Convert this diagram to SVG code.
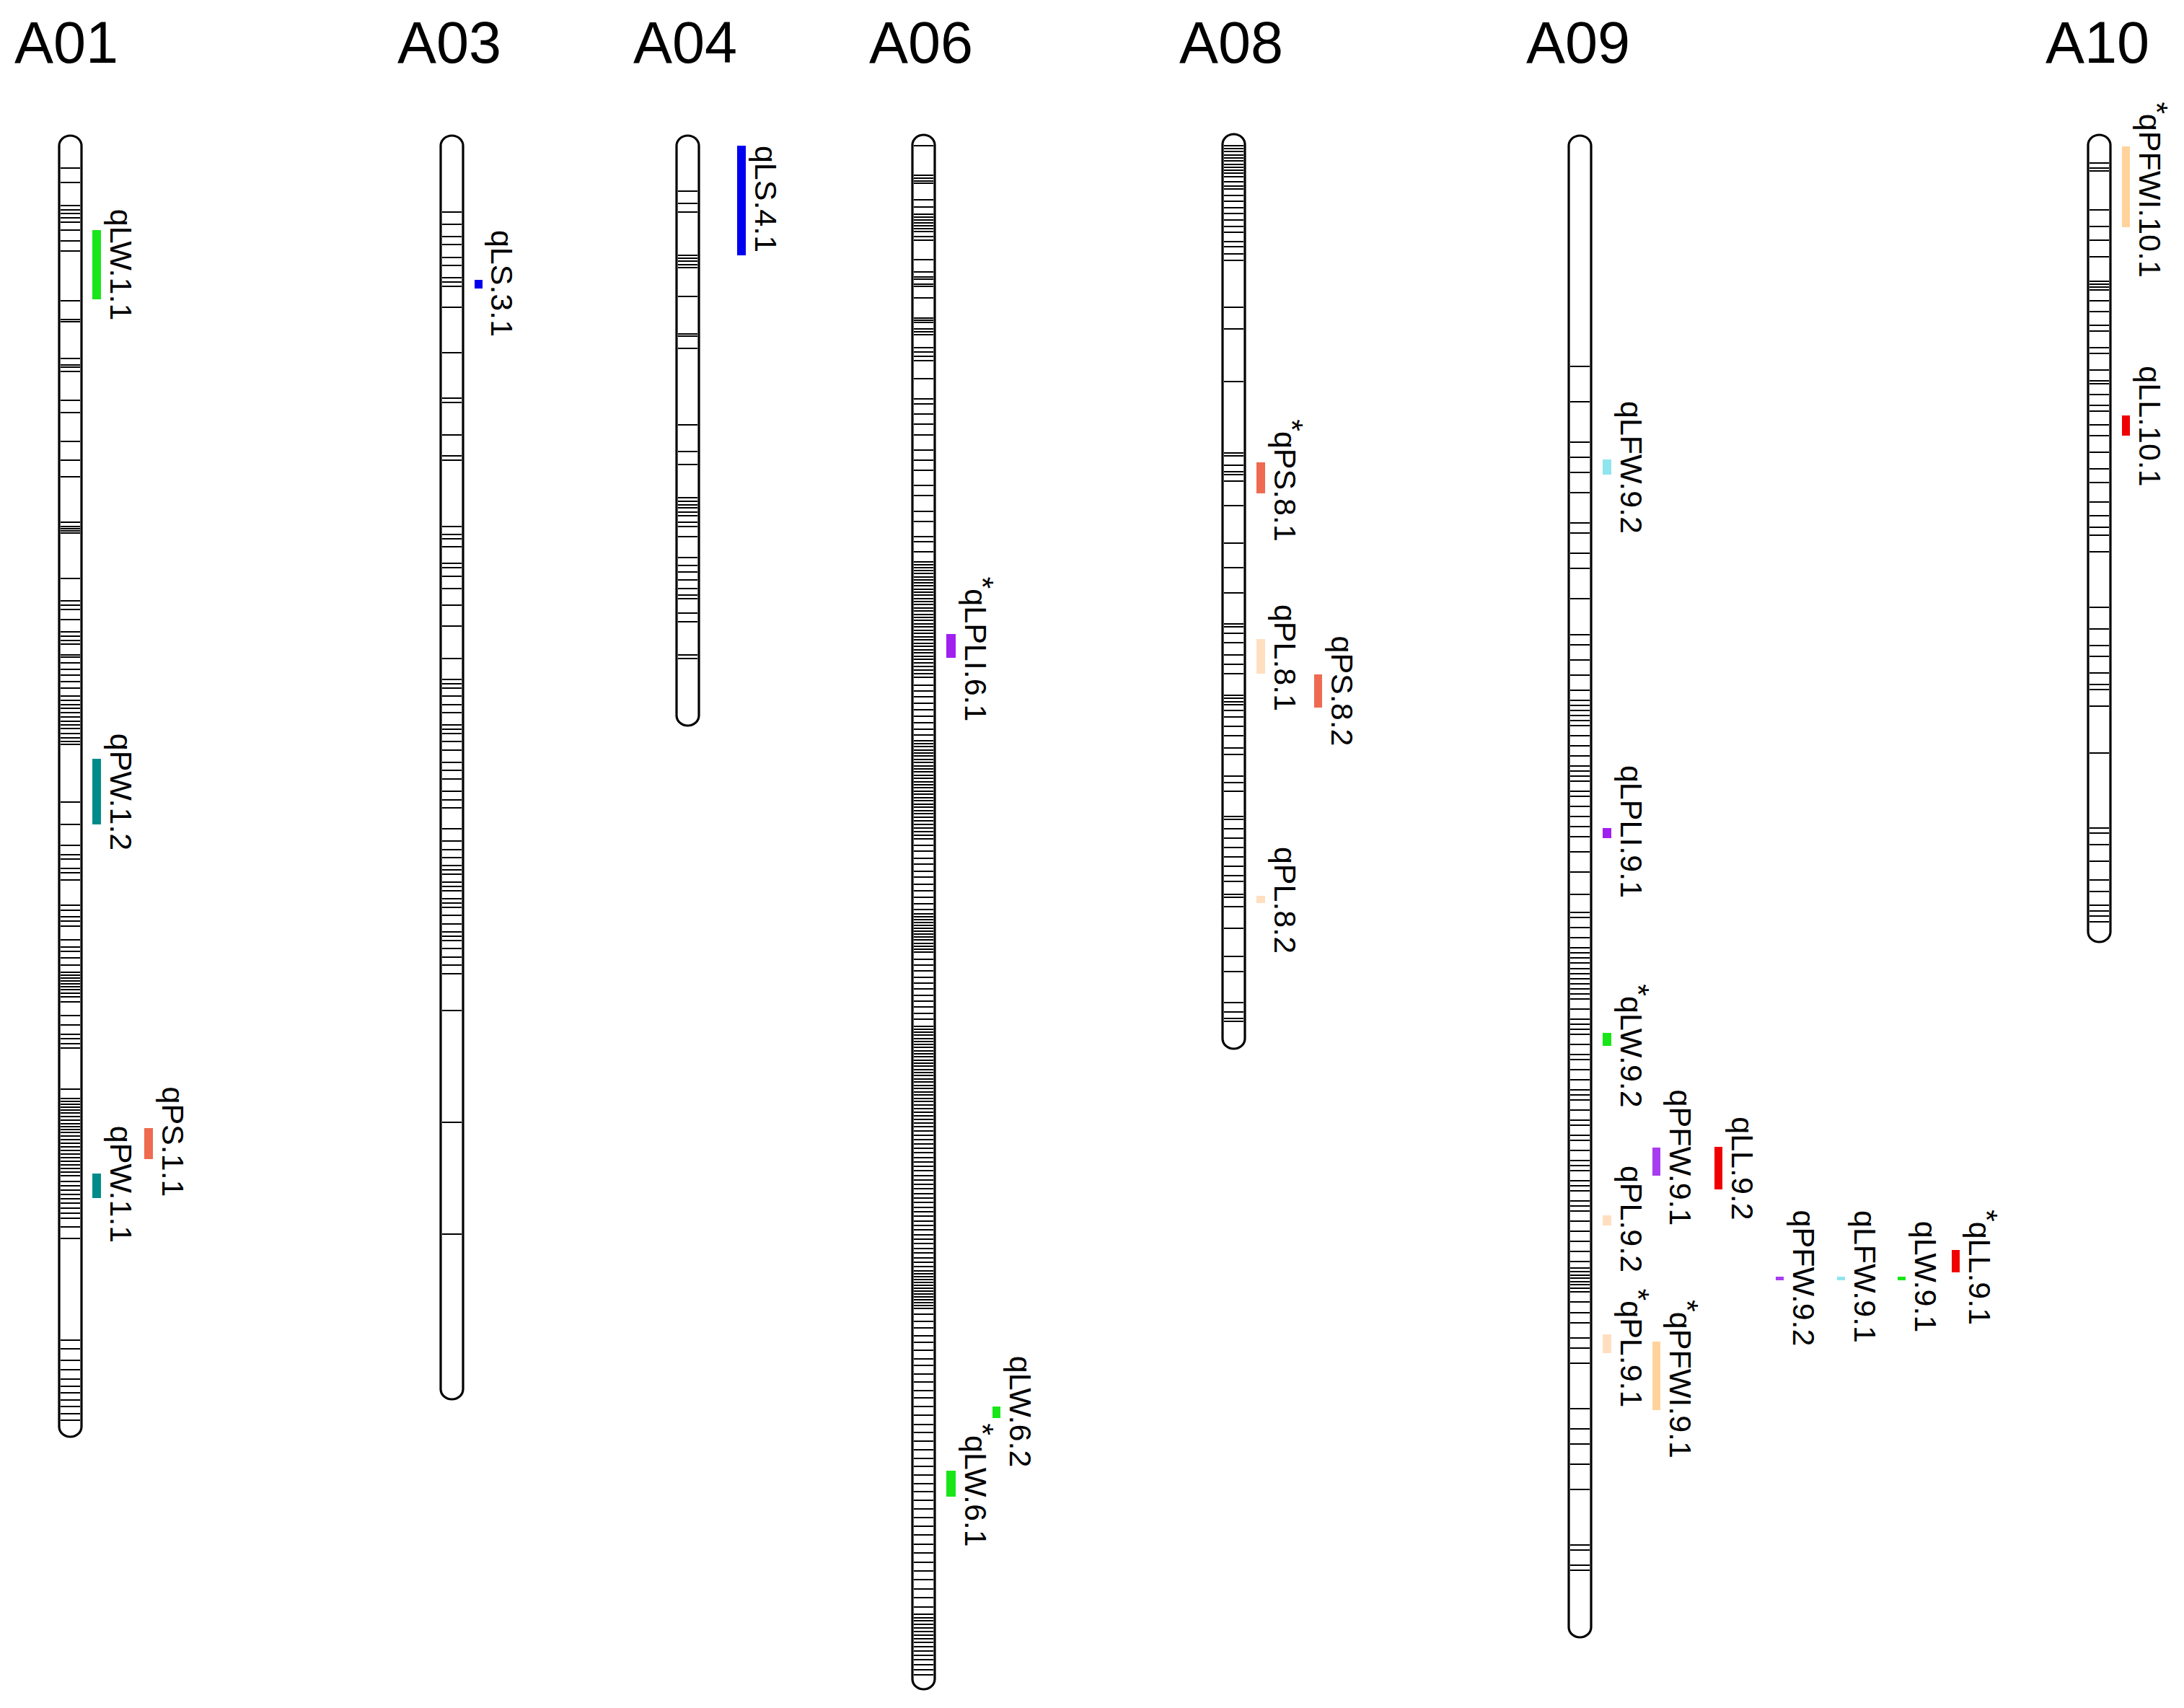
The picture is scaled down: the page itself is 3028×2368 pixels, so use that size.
<svg xmlns="http://www.w3.org/2000/svg" width="3028" height="2368" viewBox="0 0 3028 2368">
<style>
.chr{fill:#fff;stroke:#000;stroke-width:3.2}
.band{fill:none;stroke:#000;stroke-width:1.8}
.title{font-family:"Liberation Sans",Arial,sans-serif;font-size:81px;text-anchor:middle;fill:#000}
.lbl{font-family:"Liberation Sans",Arial,sans-serif;font-size:43px;text-anchor:middle;fill:#000}
.green{fill:#19E619}.teal{fill:#008B8B}.salmon{fill:#EE6A50}.blue{fill:#0000F0}.purple{fill:#A020F0}.purple2{fill:#A83CF0}.peach{fill:#FFDFC0}.orange{fill:#FFD39B}.cyan{fill:#8EE5EE}.red{fill:#F00000}
</style>
<rect width="3028" height="2368" fill="#fff"/>
<g id="connectors"/>

<g id="chr-A01">
<text class="title" x="92" y="87">A01</text>
<rect class="chr" x="82" y="188" width="31" height="1804" rx="15.5" ry="14"/>
<path class="band" d="M84 233h27M84 253h27M84 285h27M84 291h27M84 296h27M84 302h27M84 308h27M84 319h27M84 334h27M84 348h27M84 417h27M84 443h27M84 446h27M84 497h27M84 506h27M84 509h27M84 515h27M84 555h27M84 572h27M84 612h27M84 638h27M84 661h27M84 724h27M84 730h27M84 733h27M84 736h27M84 739h27M84 802h27M84 833h27M84 839h27M84 845h27M84 859h27M84 876h27M84 882h27M84 888h27M84 893h27M84 908h27M84 911h27M84 919h27M84 928h27M84 936h27M84 945h27M84 954h27M84 965h27M84 971h27M84 977h27M84 982h27M84 988h27M84 994h27M84 1000h27M84 1005h27M84 1010h27M84 1017h27M84 1023h27M84 1028h27M84 1032h27M84 1112h27M84 1143h27M84 1172h27M84 1185h27M84 1191h27M84 1204h27M84 1210h27M84 1220h27M84 1255h27M84 1262h27M84 1271h27M84 1277h27M84 1284h27M84 1303h27M84 1313h27M84 1319h27M84 1328h27M84 1338h27M84 1348h27M84 1352h27M84 1356h27M84 1360h27M84 1364h27M84 1368h27M84 1372h27M84 1377h27M84 1382h27M84 1389h27M84 1408h27M84 1421h27M84 1434h27M84 1440h27M84 1447h27M84 1453h27M84 1510h27M84 1523h27M84 1527h27M84 1531h27M84 1535h27M84 1539h27M84 1543h27M84 1548h27M84 1553h27M84 1558h27M84 1562h27M84 1566h27M84 1570h27M84 1575h27M84 1580h27M84 1585h27M84 1590h27M84 1595h27M84 1600h27M84 1605h27M84 1610h27M84 1615h27M84 1620h27M84 1625h27M84 1630h27M84 1638h27M84 1644h27M84 1650h27M84 1656h27M84 1662h27M84 1668h27M84 1675h27M84 1682h27M84 1689h27M84 1701h27M84 1717h27M84 1858h27M84 1870h27M84 1886h27M84 1899h27M84 1912h27M84 1922h27M84 1931h27M84 1941h27M84 1950h27M84 1960h27M84 1969h27"/>
</g>

<g id="chr-A03">
<text class="title" x="623" y="87">A03</text>
<rect class="chr" x="611" y="188" width="31" height="1752" rx="15.5" ry="14"/>
<path class="band" d="M613 294h27M613 311h27M613 328h27M613 339h27M613 357h27M613 368h27M613 385h27M613 391h27M613 397h27M613 426h27M613 489h27M613 552h27M613 558h27M613 603h27M613 632h27M613 638h27M613 730h27M613 741h27M613 747h27M613 758h27M613 781h27M613 787h27M613 799h27M613 816h27M613 839h27M613 868h27M613 913h27M613 942h27M613 948h27M613 954h27M613 965h27M613 977h27M613 988h27M613 1005h27M613 1011h27M613 1017h27M613 1028h27M613 1040h27M613 1057h27M613 1068h27M613 1080h27M613 1097h27M613 1109h27M613 1120h27M613 1149h27M613 1166h27M613 1178h27M613 1189h27M613 1200h27M613 1206h27M613 1212h27M613 1223h27M613 1229h27M613 1235h27M613 1246h27M613 1252h27M613 1258h27M613 1269h27M613 1281h27M613 1292h27M613 1298h27M613 1304h27M613 1315h27M613 1327h27M613 1338h27M613 1350h27M613 1401h27M613 1556h27M613 1711h27"/>
</g>

<g id="chr-A04">
<text class="title" x="950" y="87">A04</text>
<rect class="chr" x="938" y="188" width="31" height="818" rx="15.5" ry="14"/>
<path class="band" d="M940 265h27M940 282h27M940 294h27M940 354h27M940 358h27M940 362h27M940 367h27M940 371h27M940 411h27M940 463h27M940 466h27M940 483h27M940 589h27M940 626h27M940 644h27M940 690h27M940 695h27M940 700h27M940 704h27M940 710h27M940 715h27M940 724h27M940 730h27M940 744h27M940 773h27M940 784h27M940 793h27M940 804h27M940 816h27M940 825h27M940 830h27M940 850h27M940 862h27M940 908h27M940 913h27"/>
</g>

<g id="chr-A06">
<text class="title" x="1277" y="87">A06</text>
<rect class="chr" x="1265" y="187" width="31" height="2155" rx="15.5" ry="14"/>
<path class="band" d="M1267 202h27M1267 243h27M1267 247h27M1267 251h27M1267 254h27M1267 277h27M1267 287h27M1267 297h27M1267 301h27M1267 305h27M1267 309h27M1267 313h27M1267 317h27M1267 321h27M1267 328h27M1267 333h27M1267 360h27M1267 377h27M1267 384h27M1267 387h27M1267 394h27M1267 397h27M1267 413h27M1267 441h27M1267 444h27M1267 447h27M1267 456h27M1267 460h27M1267 464h27M1267 482h27M1267 488h27M1267 494h27M1267 500h27M1267 525h27M1267 553h27M1267 560h27M1267 574h27M1267 588h27M1267 603h27M1267 624h27M1267 638h27M1267 652h27M1267 673h27M1267 687h27M1267 709h27M1267 723h27M1267 744h27M1267 751h27M1267 765h27M1267 779h27M1267 783h27M1267 787h27M1267 791h27M1267 795h27M1267 800h27M1267 804h27M1267 808h27M1267 812h27M1267 817h27M1267 821h27M1267 825h27M1267 830h27M1267 834h27M1267 838h27M1267 843h27M1267 847h27M1267 852h27M1267 856h27M1267 860h27M1267 865h27M1267 869h27M1267 874h27M1267 878h27M1267 883h27M1267 887h27M1267 892h27M1267 896h27M1267 901h27M1267 905h27M1267 910h27M1267 914h27M1267 919h27M1267 924h27M1267 929h27M1267 934h27M1267 939h27M1267 950h27M1267 958h27M1267 966h27M1267 975h27M1267 984h27M1267 993h27M1267 1002h27M1267 1011h27M1267 1019h27M1267 1027h27M1267 1031h27M1267 1035h27M1267 1040h27M1267 1044h27M1267 1048h27M1267 1053h27M1267 1057h27M1267 1062h27M1267 1066h27M1267 1070h27M1267 1075h27M1267 1079h27M1267 1084h27M1267 1088h27M1267 1092h27M1267 1097h27M1267 1101h27M1267 1106h27M1267 1110h27M1267 1115h27M1267 1119h27M1267 1124h27M1267 1128h27M1267 1133h27M1267 1138h27M1267 1143h27M1267 1148h27M1267 1153h27M1267 1158h27M1267 1163h27M1267 1172h27M1267 1180h27M1267 1190h27M1267 1198h27M1267 1208h27M1267 1216h27M1267 1226h27M1267 1235h27M1267 1244h27M1267 1253h27M1267 1261h27M1267 1267h27M1267 1271h27M1267 1275h27M1267 1279h27M1267 1283h27M1267 1287h27M1267 1291h27M1267 1295h27M1267 1299h27M1267 1303h27M1267 1308h27M1267 1312h27M1267 1316h27M1267 1320h27M1267 1330h27M1267 1338h27M1267 1346h27M1267 1355h27M1267 1363h27M1267 1371h27M1267 1380h27M1267 1388h27M1267 1396h27M1267 1405h27M1267 1413h27M1267 1423h27M1267 1427h27M1267 1431h27M1267 1435h27M1267 1440h27M1267 1444h27M1267 1448h27M1267 1452h27M1267 1457h27M1267 1461h27M1267 1465h27M1267 1470h27M1267 1474h27M1267 1478h27M1267 1483h27M1267 1487h27M1267 1491h27M1267 1496h27M1267 1500h27M1267 1505h27M1267 1509h27M1267 1514h27M1267 1518h27M1267 1523h27M1267 1527h27M1267 1532h27M1267 1537h27M1267 1542h27M1267 1547h27M1267 1552h27M1267 1557h27M1267 1562h27M1267 1568h27M1267 1574h27M1267 1580h27M1267 1586h27M1267 1592h27M1267 1598h27M1267 1605h27M1267 1611h27M1267 1617h27M1267 1623h27M1267 1630h27M1267 1636h27M1267 1642h27M1267 1648h27M1267 1655h27M1267 1661h27M1267 1667h27M1267 1674h27M1267 1680h27M1267 1686h27M1267 1693h27M1267 1699h27M1267 1705h27M1267 1712h27M1267 1718h27M1267 1724h27M1267 1731h27M1267 1737h27M1267 1744h27M1267 1750h27M1267 1756h27M1267 1762h27M1267 1766h27M1267 1770h27M1267 1774h27M1267 1778h27M1267 1782h27M1267 1786h27M1267 1790h27M1267 1794h27M1267 1798h27M1267 1802h27M1267 1806h27M1267 1810h27M1267 1814h27M1267 1822h27M1267 1832h27M1267 1841h27M1267 1852h27M1267 1861h27M1267 1872h27M1267 1884h27M1267 1893h27M1267 1905h27M1267 1916h27M1267 1928h27M1267 1938h27M1267 1950h27M1267 1962h27M1267 1975h27M1267 1986h27M1267 1998h27M1267 2010h27M1267 2022h27M1267 2033h27M1267 2045h27M1267 2057h27M1267 2068h27M1267 2080h27M1267 2092h27M1267 2104h27M1267 2116h27M1267 2128h27M1267 2141h27M1267 2153h27M1267 2166h27M1267 2178h27M1267 2190h27M1267 2203h27M1267 2215h27M1267 2228h27M1267 2238h27M1267 2243h27M1267 2247h27M1267 2252h27M1267 2257h27M1267 2262h27M1267 2267h27M1267 2272h27M1267 2277h27M1267 2283h27M1267 2289h27M1267 2295h27M1267 2301h27M1267 2308h27M1267 2315h27M1267 2322h27"/>
</g>

<g id="chr-A08">
<text class="title" x="1707" y="87">A08</text>
<rect class="chr" x="1695" y="186" width="31" height="1268" rx="15.5" ry="14"/>
<path class="band" d="M1697 202h27M1697 206h27M1697 210h27M1697 215h27M1697 219h27M1697 223h27M1697 228h27M1697 232h27M1697 236h27M1697 240h27M1697 245h27M1697 252h27M1697 258h27M1697 262h27M1697 271h27M1697 279h27M1697 288h27M1697 296h27M1697 305h27M1697 314h27M1697 322h27M1697 335h27M1697 342h27M1697 352h27M1697 361h27M1697 426h27M1697 456h27M1697 529h27M1697 628h27M1697 632h27M1697 645h27M1697 654h27M1697 658h27M1697 667h27M1697 701h27M1697 753h27M1697 787h27M1697 822h27M1697 865h27M1697 869h27M1697 878h27M1697 891h27M1697 908h27M1697 921h27M1697 934h27M1697 964h27M1697 968h27M1697 973h27M1697 977h27M1697 985h27M1697 994h27M1697 1007h27M1697 1020h27M1697 1037h27M1697 1046h27M1697 1076h27M1697 1085h27M1697 1097h27M1697 1132h27M1697 1136h27M1697 1149h27M1697 1162h27M1697 1175h27M1697 1188h27M1697 1201h27M1697 1214h27M1697 1222h27M1697 1240h27M1697 1244h27M1697 1257h27M1697 1287h27M1697 1326h27M1697 1347h27M1697 1390h27M1697 1403h27M1697 1412h27M1697 1416h27"/>
</g>

<g id="chr-A09">
<text class="title" x="2188" y="87">A09</text>
<rect class="chr" x="2175" y="188" width="31" height="2082" rx="15.5" ry="14"/>
<path class="band" d="M2177 508h27M2177 557h27M2177 613h27M2177 634h27M2177 655h27M2177 683h27M2177 725h27M2177 739h27M2177 767h27M2177 788h27M2177 830h27M2177 880h27M2177 894h27M2177 915h27M2177 936h27M2177 957h27M2177 971h27M2177 978h27M2177 985h27M2177 992h27M2177 999h27M2177 1006h27M2177 1020h27M2177 1034h27M2177 1048h27M2177 1062h27M2177 1069h27M2177 1076h27M2177 1083h27M2177 1097h27M2177 1104h27M2177 1118h27M2177 1132h27M2177 1146h27M2177 1160h27M2177 1181h27M2177 1209h27M2177 1240h27M2177 1265h27M2177 1272h27M2177 1286h27M2177 1300h27M2177 1314h27M2177 1321h27M2177 1328h27M2177 1335h27M2177 1343h27M2177 1350h27M2177 1357h27M2177 1364h27M2177 1371h27M2177 1378h27M2177 1385h27M2177 1399h27M2177 1413h27M2177 1420h27M2177 1427h27M2177 1434h27M2177 1448h27M2177 1462h27M2177 1469h27M2177 1483h27M2177 1497h27M2177 1511h27M2177 1518h27M2177 1525h27M2177 1539h27M2177 1553h27M2177 1560h27M2177 1574h27M2177 1581h27M2177 1595h27M2177 1609h27M2177 1616h27M2177 1623h27M2177 1637h27M2177 1644h27M2177 1651h27M2177 1665h27M2177 1672h27M2177 1679h27M2177 1693h27M2177 1707h27M2177 1721h27M2177 1735h27M2177 1749h27M2177 1758h27M2177 1763h27M2177 1768h27M2177 1772h27M2177 1777h27M2177 1781h27M2177 1786h27M2177 1791h27M2177 1805h27M2177 1820h27M2177 1834h27M2177 1855h27M2177 1869h27M2177 1890h27M2177 1953h27M2177 1981h27M2177 2002h27M2177 2030h27M2177 2065h27M2177 2142h27M2177 2149h27M2177 2170h27M2177 2177h27"/>
</g>

<g id="chr-A10">
<text class="title" x="2908" y="87">A10</text>
<rect class="chr" x="2895" y="187" width="31" height="1119" rx="15.5" ry="14"/>
<path class="band" d="M2897 226h27M2897 233h27M2897 237h27M2897 291h27M2897 314h27M2897 333h27M2897 356h27M2897 390h27M2897 394h27M2897 398h27M2897 402h27M2897 417h27M2897 432h27M2897 451h27M2897 459h27M2897 482h27M2897 490h27M2897 513h27M2897 528h27M2897 532h27M2897 547h27M2897 562h27M2897 570h27M2897 589h27M2897 604h27M2897 627h27M2897 650h27M2897 669h27M2897 696h27M2897 715h27M2897 731h27M2897 742h27M2897 765h27M2897 842h27M2897 872h27M2897 895h27M2897 910h27M2897 933h27M2897 949h27M2897 956h27M2897 979h27M2897 1044h27M2897 1148h27M2897 1155h27M2897 1171h27M2897 1194h27M2897 1220h27M2897 1236h27M2897 1255h27M2897 1263h27M2897 1270h27M2897 1278h27"/>
</g>

<g id="qtl-qLW-1-1"><rect class="green" x="128" y="319" width="12" height="96"/><text class="lbl" transform="translate(153,367) rotate(90)">qLW.1.1</text></g>
<g id="qtl-qPW-1-2"><rect class="teal" x="128" y="1052" width="12" height="91"/><text class="lbl" transform="translate(153,1098) rotate(90)">qPW.1.2</text></g>
<g id="qtl-qPS-1-1"><rect class="salmon" x="200" y="1564" width="12" height="43"/><text class="lbl" transform="translate(225,1583) rotate(90)">qPS.1.1</text></g>
<g id="qtl-qPW-1-1"><rect class="teal" x="128" y="1627" width="12" height="34"/><text class="lbl" transform="translate(153,1642) rotate(90)">qPW.1.1</text></g>

<g id="qtl-qLS-3-1"><rect class="blue" x="658" y="388" width="11" height="12"/><text class="lbl" transform="translate(681,393) rotate(90)">qLS.3.1</text></g>
<g id="qtl-qLS-4-1"><rect class="blue" x="1022" y="202" width="12" height="152"/><text class="lbl" transform="translate(1047,276) rotate(90)">qLS.4.1</text></g>

<g id="qtl-qLPLI-6-1"><rect class="purple" x="1312" y="879" width="13" height="33"/><text class="lbl" transform="translate(1338,900) rotate(90)"><tspan dy="-10">*</tspan><tspan dy="10">qLPLI.6.1</tspan></text></g>
<g id="qtl-qLW-6-2"><rect class="green" x="1376" y="1950" width="11" height="16"/><text class="lbl" transform="translate(1400,1957) rotate(90)">qLW.6.2</text></g>
<g id="qtl-qLW-6-1"><rect class="green" x="1312" y="2039" width="13" height="36"/><text class="lbl" transform="translate(1338,2059) rotate(90)"><tspan dy="-10">*</tspan><tspan dy="10">qLW.6.1</tspan></text></g>

<g id="qtl-qPS-8-1"><rect class="salmon" x="1742" y="641" width="12" height="43"/><text class="lbl" transform="translate(1767,666) rotate(90)"><tspan dy="-10">*</tspan><tspan dy="10">qPS.8.1</tspan></text></g>
<g id="qtl-qPL-8-1"><rect class="peach" x="1742" y="886" width="12" height="48"/><text class="lbl" transform="translate(1767,912) rotate(90)">qPL.8.1</text></g>
<g id="qtl-qPS-8-2"><rect class="salmon" x="1822" y="935" width="11" height="46"/><text class="lbl" transform="translate(1846,958) rotate(90)">qPS.8.2</text></g>
<g id="qtl-qPL-8-2"><rect class="peach" x="1742" y="1242" width="12" height="10"/><text class="lbl" transform="translate(1767,1248) rotate(90)">qPL.8.2</text></g>

<g id="qtl-qLFW-9-2"><rect class="cyan" x="2222" y="637" width="12" height="21"/><text class="lbl" transform="translate(2247,648) rotate(90)">qLFW.9.2</text></g>
<g id="qtl-qLPLI-9-1"><rect class="purple" x="2222" y="1148" width="12" height="14"/><text class="lbl" transform="translate(2247,1153) rotate(90)">qLPLI.9.1</text></g>
<g id="qtl-qLW-9-2"><rect class="green" x="2222" y="1432" width="12" height="18"/><text class="lbl" transform="translate(2247,1450) rotate(90)"><tspan dy="-10">*</tspan><tspan dy="10">qLW.9.2</tspan></text></g>
<g id="qtl-qPFW-9-1"><rect class="purple2" x="2291" y="1591" width="11" height="39"/><text class="lbl" transform="translate(2315,1605) rotate(90)">qPFW.9.1</text></g>
<g id="qtl-qLL-9-2"><rect class="red" x="2377" y="1590" width="11" height="59"/><text class="lbl" transform="translate(2401,1620) rotate(90)">qLL.9.2</text></g>
<g id="qtl-qPL-9-2"><rect class="peach" x="2222" y="1685" width="12" height="14"/><text class="lbl" transform="translate(2247,1690) rotate(90)">qPL.9.2</text></g>
<g id="qtl-qPL-9-1"><rect class="peach" x="2222" y="1850" width="12" height="26"/><text class="lbl" transform="translate(2247,1869) rotate(90)"><tspan dy="-10">*</tspan><tspan dy="10">qPL.9.1</tspan></text></g>
<g id="qtl-qPFWI-9-1"><rect class="orange" x="2291" y="1860" width="11" height="95"/><text class="lbl" transform="translate(2315,1912) rotate(90)"><tspan dy="-10">*</tspan><tspan dy="10">qPFWI.9.1</tspan></text></g>
<g id="qtl-qPFW-9-2"><rect class="purple2" x="2462" y="1770" width="11" height="5"/><text class="lbl" transform="translate(2486,1772) rotate(90)">qPFW.9.2</text></g>
<g id="qtl-qLFW-9-1"><rect class="cyan" x="2547" y="1770" width="11" height="5"/><text class="lbl" transform="translate(2571,1770) rotate(90)">qLFW.9.1</text></g>
<g id="qtl-qLW-9-1"><rect class="green" x="2631" y="1770" width="11" height="5"/><text class="lbl" transform="translate(2655,1770) rotate(90)">qLW.9.1</text></g>
<g id="qtl-qLL-9-1"><rect class="red" x="2706" y="1733" width="11" height="31"/><text class="lbl" transform="translate(2730,1757) rotate(90)"><tspan dy="-10">*</tspan><tspan dy="10">qLL.9.1</tspan></text></g>

<g id="qtl-qPFWI-10-1"><rect class="orange" x="2942" y="203" width="11" height="112"/><text class="lbl" transform="translate(2966,263) rotate(90)"><tspan dy="-10">*</tspan><tspan dy="10">qPFWI.10.1</tspan></text></g>
<g id="qtl-qLL-10-1"><rect class="red" x="2942" y="576" width="11" height="28"/><text class="lbl" transform="translate(2966,591) rotate(90)">qLL.10.1</text></g>
</svg>
